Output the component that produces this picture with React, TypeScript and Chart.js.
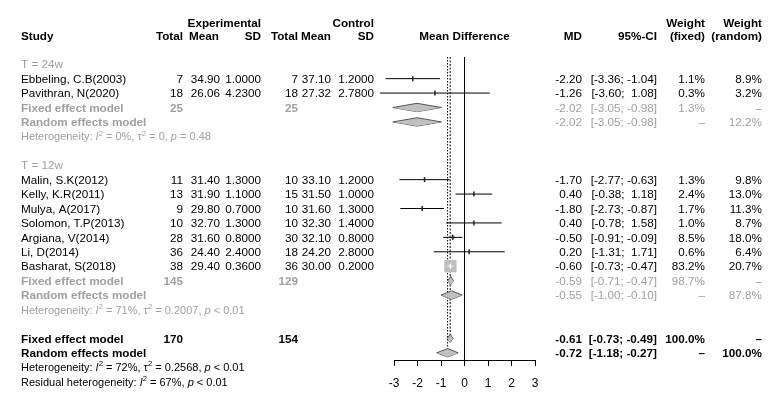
import React, { useEffect, useRef } from 'react';
import { Chart, registerables } from 'chart.js';

Chart.register(...registerables);

// ---------- data ----------
const studyNames = [
  'Ebbeling, C.B(2003)', 'Pavithran, N(2020)', 'Malin, S.K(2012)', 'Kelly, K.R(2011)',
  'Mulya, A(2017)', 'Solomon, T.P(2013)', 'Argiana, V(2014)', 'Li, D(2014)', 'Basharat, S(2018)',
];
const studyRows = [1, 2, 8, 9, 10, 11, 12, 13, 14];
const expTotal = [7, 18, 11, 13, 9, 10, 28, 36, 38];
const expMean = ['34.90', '26.06', '31.40', '31.90', '29.80', '32.70', '31.60', '24.40', '29.40'];
const expSD = ['1.0000', '4.2300', '1.3000', '1.1000', '0.7000', '1.3000', '0.8000', '2.4000', '0.3600'];
const ctlTotal = [7, 18, 10, 15, 10, 10, 30, 18, 36];
const ctlMean = ['37.10', '27.32', '33.10', '31.50', '31.60', '32.30', '32.10', '24.20', '30.00'];
const ctlSD = ['1.2000', '2.7800', '1.2000', '1.0000', '1.3000', '1.4000', '0.8000', '2.8000', '0.2000'];
const studyMD = [-2.2, -1.26, -1.7, 0.4, -1.8, 0.4, -0.5, 0.2, -0.6];
const studyLo = [-3.36, -3.6, -2.77, -0.38, -2.73, -0.78, -0.91, -1.31, -0.73];
const studyHi = [-1.04, 1.08, -0.63, 1.18, -0.87, 1.58, -0.09, 1.71, -0.47];
const weightFixed = [1.1, 0.3, 1.3, 2.4, 1.7, 1.0, 8.5, 0.6, 83.2];
const weightRandom = [8.9, 3.2, 9.8, 13.0, 11.3, 8.7, 18.0, 6.4, 20.7];

const subgroupLabels = ['T = 24w', 'T = 12w'];
const subgroupRows = [0, 7];

const summaryNames = [
  'Fixed effect model', 'Random effects model', 'Fixed effect model',
  'Random effects model', 'Fixed effect model', 'Random effects model',
];
const summaryRows = [3, 4, 15, 16, 19, 20];
const summaryExpTotal = ['25', '', '145', '', '170', ''];
const summaryCtlTotal = ['25', '', '129', '', '154', ''];
const summaryMD = [-2.02, -2.02, -0.59, -0.55, -0.61, -0.72];
const summaryLo = [-3.05, -3.05, -0.71, -1.0, -0.73, -1.18];
const summaryHi = [-0.98, -0.98, -0.47, -0.1, -0.49, -0.27];
const summaryWFixed = ['1.3%', '–', '98.7%', '–', '100.0%', '–'];
const summaryWRandom = ['–', '12.2%', '–', '87.8%', '–', '100.0%'];
const summaryOverall = [false, false, false, false, true, true];

const hetLabels = ['Heterogeneity: ', 'Heterogeneity: ', 'Heterogeneity: ', 'Residual heterogeneity: '];
const hetI2 = ['0%', '71%', '72%', '67%'];
const hetTau2 = ['0', '0.2007', '0.2568', ''];
const hetP = ['= 0.48', '< 0.01', '< 0.01', '< 0.01'];
const hetRows = [5, 17, 21, 22];
const hetOverall = [false, false, true, true];

const xTicks = [-3, -2, -1, 0, 1, 2, 3];

// ---------- styling ----------
const FAMILY = '"Liberation Sans", Arial, sans-serif';
const GRAY = '#a0a0a0';
const FS = 11.7;
const COL = {
  study: 21, expTotal: 183, expMean: 220, expSd: 261, ctlTotal: 298, ctlMean: 331, ctlSd: 374,
  md: 582, ci: 657, wFixed: 705, wRandom: 762,
};
const DIAMOND_H = 0.29;

const fmt = (v: number) => (v < 0 ? v.toFixed(2) : ' ' + v.toFixed(2));
const ciText = (lo: number, hi: number) => `[${fmt(lo)}; ${fmt(hi)}]`;

function txt(ctx: CanvasRenderingContext2D, s: string, x: number, y: number, align: CanvasTextAlign, font: string, color: string) {
  ctx.font = font;
  ctx.fillStyle = color;
  ctx.textAlign = align;
  ctx.textBaseline = 'middle';
  ctx.fillText(s, x, y);
}

type Seg = { t: string; italic?: boolean; sup?: boolean };
function rich(ctx: CanvasRenderingContext2D, segs: Seg[], x: number, y: number, color: string, size: number) {
  let cx = x;
  ctx.textAlign = 'left';
  ctx.textBaseline = 'middle';
  ctx.fillStyle = color;
  for (const s of segs) {
    const fs = s.sup ? size * 0.7 : size;
    ctx.font = `${s.italic ? 'italic ' : ''}${fs}px ${FAMILY}`;
    ctx.fillText(s.t, cx, s.sup ? y - size * 0.35 : y);
    cx += ctx.measureText(s.t).width;
  }
}

const textPlugin = {
  id: 'forestText',
  afterDraw(chart: any) {
    const ctx: CanvasRenderingContext2D = chart.ctx;
    const ys = chart.scales.y;
    const xs = chart.scales.x;
    const Y = (r: number) => ys.getPixelForValue(r) + 1;
    const reg = `${FS}px ${FAMILY}`;
    const bold = `bold ${FS}px ${FAMILY}`;
    ctx.save();
    // headers
    const h1 = Y(-2.85);
    const h2 = Y(-2);
    txt(ctx, 'Experimental', COL.expSd, h1, 'right', bold, '#000');
    txt(ctx, 'Control', COL.ctlSd, h1, 'right', bold, '#000');
    txt(ctx, 'Weight', COL.wFixed, h1, 'right', bold, '#000');
    txt(ctx, 'Weight', COL.wRandom, h1, 'right', bold, '#000');
    txt(ctx, 'Study', COL.study, h2, 'left', bold, '#000');
    txt(ctx, 'Total', COL.expTotal, h2, 'right', bold, '#000');
    txt(ctx, 'Mean', COL.expMean - 1, h2, 'right', bold, '#000');
    txt(ctx, 'SD', COL.expSd, h2, 'right', bold, '#000');
    txt(ctx, 'Total', COL.ctlTotal, h2, 'right', bold, '#000');
    txt(ctx, 'Mean', COL.ctlMean, h2, 'right', bold, '#000');
    txt(ctx, 'SD', COL.ctlSd, h2, 'right', bold, '#000');
    txt(ctx, 'Mean Difference', (xs.left + xs.right) / 2, h2, 'center', bold, '#000');
    txt(ctx, 'MD', COL.md, h2, 'right', bold, '#000');
    txt(ctx, '95%-CI', COL.ci, h2, 'right', bold, '#000');
    txt(ctx, '(fixed)', COL.wFixed, h2, 'right', bold, '#000');
    txt(ctx, '(random)', COL.wRandom, h2, 'right', bold, '#000');

    subgroupLabels.forEach((s, i) => txt(ctx, s, COL.study, Y(subgroupRows[i]), 'left', reg, GRAY));

    studyNames.forEach((name, i) => {
      const y = Y(studyRows[i]);
      txt(ctx, name, COL.study, y, 'left', reg, '#000');
      txt(ctx, String(expTotal[i]), COL.expTotal, y, 'right', reg, '#000');
      txt(ctx, expMean[i], COL.expMean, y, 'right', reg, '#000');
      txt(ctx, expSD[i], COL.expSd, y, 'right', reg, '#000');
      txt(ctx, String(ctlTotal[i]), COL.ctlTotal, y, 'right', reg, '#000');
      txt(ctx, ctlMean[i], COL.ctlMean, y, 'right', reg, '#000');
      txt(ctx, ctlSD[i], COL.ctlSd, y, 'right', reg, '#000');
      txt(ctx, studyMD[i].toFixed(2), COL.md, y, 'right', reg, '#000');
      txt(ctx, ciText(studyLo[i], studyHi[i]), COL.ci, y, 'right', reg, '#000');
      txt(ctx, weightFixed[i].toFixed(1) + '%', COL.wFixed, y, 'right', reg, '#000');
      txt(ctx, weightRandom[i].toFixed(1) + '%', COL.wRandom, y, 'right', reg, '#000');
    });

    summaryNames.forEach((name, i) => {
      const y = Y(summaryRows[i]);
      const ov = summaryOverall[i];
      const c = ov ? '#000' : GRAY;
      const numFont = ov ? bold : reg;
      txt(ctx, name, COL.study, y, 'left', bold, c);
      if (summaryExpTotal[i]) txt(ctx, summaryExpTotal[i], COL.expTotal, y, 'right', bold, c);
      if (summaryCtlTotal[i]) txt(ctx, summaryCtlTotal[i], COL.ctlTotal, y, 'right', bold, c);
      txt(ctx, summaryMD[i].toFixed(2), COL.md, y, 'right', numFont, c);
      txt(ctx, ciText(summaryLo[i], summaryHi[i]), COL.ci, y, 'right', numFont, c);
      txt(ctx, summaryWFixed[i], COL.wFixed, y, 'right', numFont, c);
      txt(ctx, summaryWRandom[i], COL.wRandom, y, 'right', numFont, c);
    });

    hetLabels.forEach((lab, i) => {
      const segs: Seg[] = [
        { t: lab }, { t: 'I', italic: true }, { t: '2', sup: true }, { t: ` = ${hetI2[i]}, ` },
      ];
      if (hetTau2[i]) segs.push({ t: 'τ' }, { t: '2', sup: true }, { t: ` = ${hetTau2[i]}, ` });
      segs.push({ t: 'p', italic: true }, { t: ` ${hetP[i]}` });
      rich(ctx, segs, COL.study, Y(hetRows[i]), hetOverall[i] ? '#000' : GRAY, 11);
    });
    ctx.restore();
  },
};

export default function App() {
  const ref = useRef<HTMLCanvasElement | null>(null);

  useEffect(() => {
    if (!ref.current) return;
    const fixedEst = summaryMD[4];
    const randomEst = summaryMD[5];

    const ciData: any[] = [];
    studyNames.forEach((_, i) => {
      ciData.push({ x: studyLo[i], y: studyRows[i] });
      ciData.push({ x: studyHi[i], y: studyRows[i] });
      ciData.push({ x: studyHi[i], y: null });
    });
    const pts = studyNames.map((_, i) => ({ x: studyMD[i], y: studyRows[i] }));

    const diamondSets: any[] = [];
    summaryNames.forEach((_, i) => {
      const r = summaryRows[i];
      diamondSets.push({
        type: 'line',
        data: [{ x: summaryLo[i], y: r }, { x: summaryMD[i], y: r - DIAMOND_H }, { x: summaryHi[i], y: r }],
        borderColor: '#555', borderWidth: 1, pointRadius: 0, fill: '+1',
        backgroundColor: '#c0c0c0', order: 5, clip: false,
      });
      diamondSets.push({
        type: 'line',
        data: [{ x: summaryLo[i], y: r }, { x: summaryMD[i], y: r + DIAMOND_H }, { x: summaryHi[i], y: r }],
        borderColor: '#555', borderWidth: 1, pointRadius: 0, fill: false, order: 5, clip: false,
      });
    });

    const chart = new Chart(ref.current, {
      type: 'line',
      data: {
        datasets: [
          {
            data: [{ x: 0, y: -0.5 }, { x: 0, y: 20.5 }],
            borderColor: '#000', borderWidth: 1, pointRadius: 0, order: 10, clip: false,
          },
          {
            data: [{ x: fixedEst, y: -0.5 }, { x: fixedEst, y: summaryRows[4] }],
            borderColor: '#000', borderWidth: 1, borderDash: [2, 1.5], pointRadius: 0, order: 9, clip: false,
          },
          {
            data: [{ x: randomEst, y: -0.5 }, { x: randomEst, y: summaryRows[5] }],
            borderColor: '#000', borderWidth: 1, borderDash: [1.5, 1.5], pointRadius: 0, order: 9, clip: false,
          },
          ...diamondSets,
          {
            data: pts,
            showLine: false,
            pointStyle: 'rect',
            pointRadius: (c: any) => Math.max(0.6, 8.7 * Math.sqrt(weightFixed[c.dataIndex] / 83.2)),
            pointBackgroundColor: '#bebebe',
            pointBorderWidth: 0,
            pointBorderColor: '#bebebe',
            order: 4, clip: false,
          },
          {
            data: ciData,
            borderWidth: 1,
            borderColor: '#000',
            segment: {
              borderColor: (c: any) => (weightFixed[Math.floor(c.p0DataIndex / 3)] > 50 ? '#ffffff' : '#000'),
            },
            spanGaps: false,
            pointRadius: 0,
            order: 3, clip: false,
          },
          {
            data: pts,
            showLine: false,
            pointStyle: 'line',
            rotation: 90,
            pointRadius: 2.5,
            pointBorderWidth: 1.5,
            pointBorderColor: (c: any) => (weightFixed[c.dataIndex] > 50 ? '#ffffff' : '#222'),
            order: 2, clip: false,
          },
        ] as any,
      },
      options: {
        responsive: false,
        animation: false,
        events: [],
        layout: { padding: { left: 394, right: 247, top: 57, bottom: 12 } },
        plugins: { legend: { display: false }, tooltip: { enabled: false } },
        elements: { line: { tension: 0 } },
        scales: {
          x: {
            type: 'linear',
            min: -3,
            max: 3,
            afterBuildTicks: (s: any) => { s.ticks = xTicks.map((v) => ({ value: v })); },
            afterFit: (s: any) => { s.height = 30; },
            ticks: {
              font: { family: FAMILY, size: 12 },
              color: '#000',
              padding: 10,
              callback: (v: any) => String(v),
            },
            grid: { drawOnChartArea: false, drawTicks: true, tickLength: 6, color: '#000', lineWidth: 1 },
            border: { display: true, color: '#000', width: 1 },
          },
          y: { type: 'linear', display: false, min: -0.5, max: 20.5, reverse: true },
        },
      } as any,
      plugins: [textPlugin],
    });
    return () => chart.destroy();
  }, []);

  return (
    <div style={{ position: 'fixed', left: 0, top: 0, width: 782, height: 402, background: '#fff' }}>
      <canvas ref={ref} width={782} height={402} style={{ display: 'block', width: 782, height: 402 }} />
    </div>
  );
}
